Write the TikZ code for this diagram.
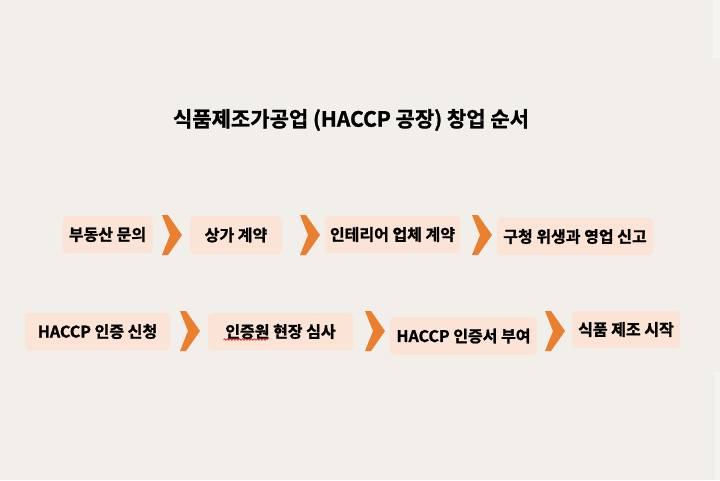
\documentclass[tikz,border=0pt]{standalone}
\usepackage{fontspec}
\setmainfont{Noto Sans CJK KR Bold}[FakeBold=1.3]
\usetikzlibrary{decorations.pathmorphing}
\definecolor{bgc}{HTML}{F2EFEA}
\definecolor{bgl}{HTML}{F6F4F1}
\definecolor{boxc}{HTML}{FBE3D5}
\definecolor{arrc}{HTML}{EA7F30}
\tikzset{
  stepbox/.style={fill=boxc, rounded corners=4pt, inner sep=0pt, font=\fontsize{16}{18}\selectfont, text=black},
  chev/.pic={\fill[arrc] (0,0) -- (6,0) -- (20,20) -- (6,40) -- (0,40) -- (8,20) -- cycle;}
}
\begin{document}
\begin{tikzpicture}[x=1pt,y=-1pt]
\fill[bgc] (0,0) rectangle (720,480);
\fill[bgl] (713,0) rectangle (720,58);
\fill[bgl] (715,372) rectangle (720,480);
\useasboundingbox (0,0) rectangle (720,480);
\node[font=\fontsize{21}{24}\selectfont, text=black] (title) at (351,120) {식품제조가공업 (HACCP 공장) 창업 순서};
% row 1
\node[stepbox, minimum width=90pt, minimum height=37pt] (b1) at (107.5,234.5) {부동산 문의};
\node[stepbox, minimum width=92pt, minimum height=38pt] (b2) at (236,235) {상가 계약};
\node[stepbox, minimum width=135pt, minimum height=37pt] (b3) at (392.5,234.5) {인테리어 업체 계약};
\node[stepbox, minimum width=156pt, minimum height=37pt] (b4) at (575,236.5) {구청 위생과 영업 신고};
% row 2
\node[stepbox, minimum width=145pt, minimum height=37pt] (b5) at (97.5,331.5) {HACCP 인증 신청};
\node[stepbox, minimum width=145pt, minimum height=37pt] (b6) at (280.5,331.5) {인증원 현장 심사};
\node[stepbox, minimum width=147pt, minimum height=38pt] (b7) at (463.5,336) {HACCP 인증서 부여};
\node[stepbox, minimum width=108pt, minimum height=37pt] (b8) at (626,329.5) {식품 제조 시작};
% chevrons
\pic at (162,215) {chev};
\pic at (300,215) {chev};
\pic at (472,215) {chev};
\pic at (180,311) {chev};
\pic at (365,311) {chev};
\pic at (545,311) {chev};
% spell-check underline
\draw[red!80!black, line width=0.6pt, decorate, decoration={snake, amplitude=0.8pt, segment length=3pt}] ([xshift=-57pt,yshift=-8pt]b6.center) -- ([xshift=-13pt,yshift=-8pt]b6.center);
\end{tikzpicture}
\end{document}
